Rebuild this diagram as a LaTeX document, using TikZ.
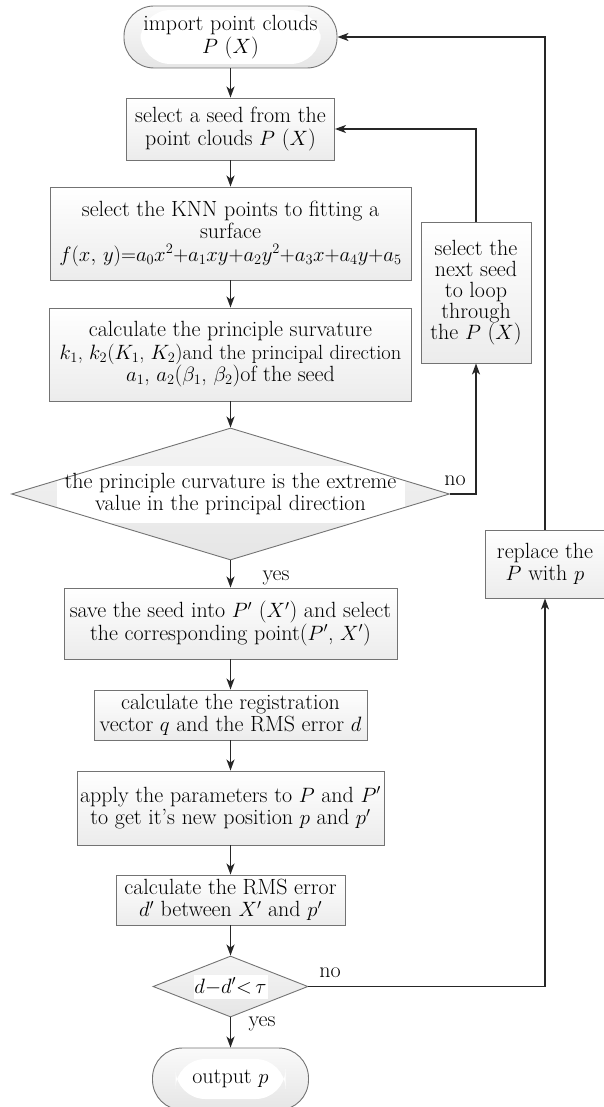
\documentclass[tikz,border=0pt]{standalone}
\usepackage{fontspec}
\usetikzlibrary{arrows.meta,shapes.geometric,calc}
\begin{document}
\begin{tikzpicture}[x=1pt,y=-1pt,
  every node/.style={font=\fontsize{22}{22.5}\selectfont, align=center},
  box/.style={draw=gray!90!black, line width=0.9pt, rectangle, inner sep=0pt,
    top color=white, middle color=white, bottom color=gray!15},
  term/.style={draw=gray!90!black, line width=0.9pt, rectangle, rounded corners=30pt, inner sep=0pt,
    top color=gray!4, bottom color=gray!20},
  dec/.style={draw=gray!90!black, line width=0.9pt, diamond, inner sep=0pt,
    top color=gray!8, bottom color=gray!20},
  patch/.style 2 args={path picture={\fill[white] ($(path picture bounding box.center)+(-#1/2,-#2/2)$) rectangle ++(#1,#2);}},
  conn/.style={draw=gray!30!black, line width=1.6pt, -{Stealth[length=11pt,width=8pt,inset=3pt]}},
  lab/.style={inner sep=0pt}
]
\useasboundingbox (0,0) rectangle (604,1107);

\node[term, minimum width=213, minimum height=62, patch={180}{54}] (start) at (230.5,37) {};
\node (starttxt) at (start) {import point clouds\\$P$ ($X$)};

\node[box, minimum width=208, minimum height=62] (box2) at (230.5,129) {select a seed from the\\point clouds $P$ ($X$)};

\node[box, minimum width=361, minimum height=93] (box3) at (230.5,233.5) {select the KNN points to fitting a\\surface\\$f(x,\,y){=}a_0x^2{+}a_1xy{+}a_2y^2{+}a_3x{+}a_4y{+}a_5$};

\node[box, minimum width=362, minimum height=93] (box4) at (230.5,354.5) {calculate the principle survature\\{\fontsize{20.5}{22.5}\selectfont $k_1$, $k_2$($K_1$, $K_2$)and the principal direction}\\$a_1$, $a_2$($\beta_1$, $\beta_2$)of the seed};

\node[dec, minimum width=438, minimum height=132, patch={348}{57}] (dia1) at (230.5,494) {};
\node (dia1txt) at (dia1) {the principle curvature is the extreme\\value in the principal direction};

\node[box, minimum width=110, minimum height=141, font=\fontsize{22}{21}\selectfont] (nxt) at (476,292.5) {select the\\next seed\\to loop\\through\\the $P$ ($X$)};

\node[box, minimum width=333, minimum height=71] (box5) at (230.5,623.5) {save the seed into $P'$ ($X'$) and select\\the corresponding point($P'$, $X'$)};

\node[box, minimum width=273, minimum height=50] (box6) at (230.5,715) {calculate the registration\\vector $q$ and the RMS error $d$};

\node[box, minimum width=307, minimum height=74] (box7) at (230.5,808) {apply the parameters to $P$ and $P'$\\to get it's new position $p$ and $p'$};

\node[box, minimum width=229, minimum height=50] (box8) at (230.5,900) {calculate the RMS error\\$d'$ between $X'$ and $p'$};

\node[dec, minimum width=155, minimum height=61, patch={74}{24}] (dia2) at (230.5,986.5) {};
\node (dia2txt) at (dia2) {$d{-}d'{<}\,\tau$};

\node[term, minimum width=156, minimum height=62, patch={110}{40}] (stop) at (230.5,1079) {};
\node (stoptxt) at (stop) {output $p$};

\node[box, minimum width=119, minimum height=68] (rep) at (545,564) {replace the\\$P$ with $p$};

\draw[conn] (start) -- (box2);
\draw[conn] (box2) -- (box3);
\draw[conn] (box3) -- (box4);
\draw[conn] (box4) -- (dia1);
\draw[conn] (dia1) -- (box5);
\draw[conn] (box5) -- (box6);
\draw[conn] (box6) -- (box7);
\draw[conn] (box7) -- (box8);
\draw[conn] (box8) -- (dia2);
\draw[conn] (dia2) -- (stop);
\draw[conn] (dia1.east) -| (nxt.south);
\draw[conn] (nxt.north) |- (box2.east);
\draw[conn] (dia2.east) -| (rep.south);
\draw[conn] (rep.north) |- (start.east);

\node[lab] (no1) at (455,481) {no};
\node[lab] (yes1) at (276,578) {yes};
\node[lab] (no2) at (330,973) {no};
\node[lab] (yes2) at (262,1024) {yes};
\end{tikzpicture}
\end{document}
